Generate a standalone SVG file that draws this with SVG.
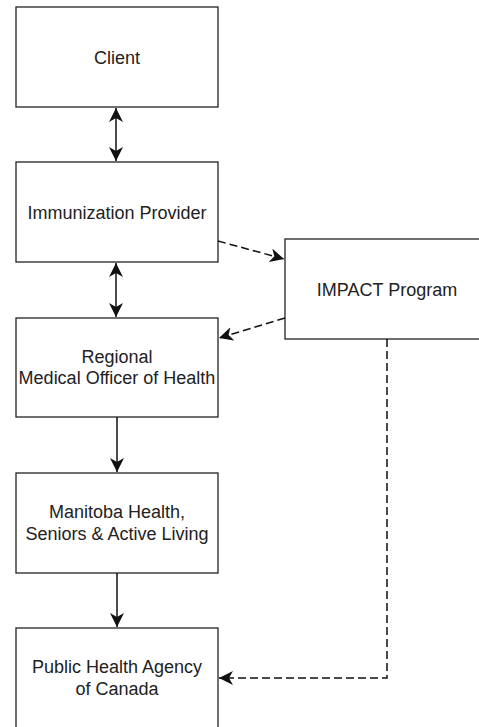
<svg xmlns="http://www.w3.org/2000/svg" width="479" height="727" viewBox="0 0 479 727">
<style>
.box{fill:#fff;stroke:#222;stroke-width:1.3}
.lbl{font-family:"Liberation Sans",Arial,sans-serif;font-size:18px;fill:#222;text-anchor:middle;dominant-baseline:central}
.c{fill:none;stroke:#111;stroke-width:1.5}
.d{stroke-dasharray:8 4}
</style>
<defs>
<marker id="ah" viewBox="0 0 14 14" refX="14" refY="7" markerWidth="14" markerHeight="14" markerUnits="userSpaceOnUse" orient="auto-start-reverse">
<path d="M0,0 L14,7 L0,14 L4,7 z" fill="#111"/>
</marker>
</defs>
<rect width="479" height="727" fill="#fff"/>
<g id="client"><rect class="box" x="16" y="7" width="202" height="100"/><text class="lbl" x="117" y="58">Client</text></g>
<g id="provider"><rect class="box" x="16" y="162" width="202" height="100"/><text class="lbl" x="117" y="213">Immunization Provider</text></g>
<g id="impact"><rect class="box" x="285" y="239" width="210" height="100"/><text class="lbl" x="387" y="290">IMPACT Program</text></g>
<g id="rmoh"><rect class="box" x="16" y="318" width="202" height="99"/><text class="lbl" x="117" y="357">Regional</text><text class="lbl" x="117" y="378">Medical Officer of Health</text></g>
<g id="mhsal"><rect class="box" x="16" y="473" width="202" height="100"/><text class="lbl" x="117" y="512">Manitoba Health,</text><text class="lbl" x="117" y="534">Seniors &amp; Active Living</text></g>
<g id="phac"><rect class="box" x="16" y="628" width="202" height="105"/><text class="lbl" x="117" y="667">Public Health Agency</text><text class="lbl" x="117" y="689">of Canada</text></g>
<g id="connectors">
<line class="c" x1="116" y1="108" x2="116" y2="161" marker-start="url(#ah)" marker-end="url(#ah)"/>
<line class="c" x1="116" y1="263" x2="116" y2="317" marker-start="url(#ah)" marker-end="url(#ah)"/>
<line class="c" x1="117" y1="417" x2="117" y2="472" marker-end="url(#ah)"/>
<line class="c" x1="117" y1="573" x2="117" y2="627" marker-end="url(#ah)"/>
<line class="c d" x1="218" y1="241" x2="284" y2="259" marker-end="url(#ah)"/>
<line class="c d" x1="285" y1="318" x2="219" y2="338" marker-end="url(#ah)"/>
<polyline class="c d" points="387,339 387,678 219,678" marker-end="url(#ah)"/>
</g>
</svg>
